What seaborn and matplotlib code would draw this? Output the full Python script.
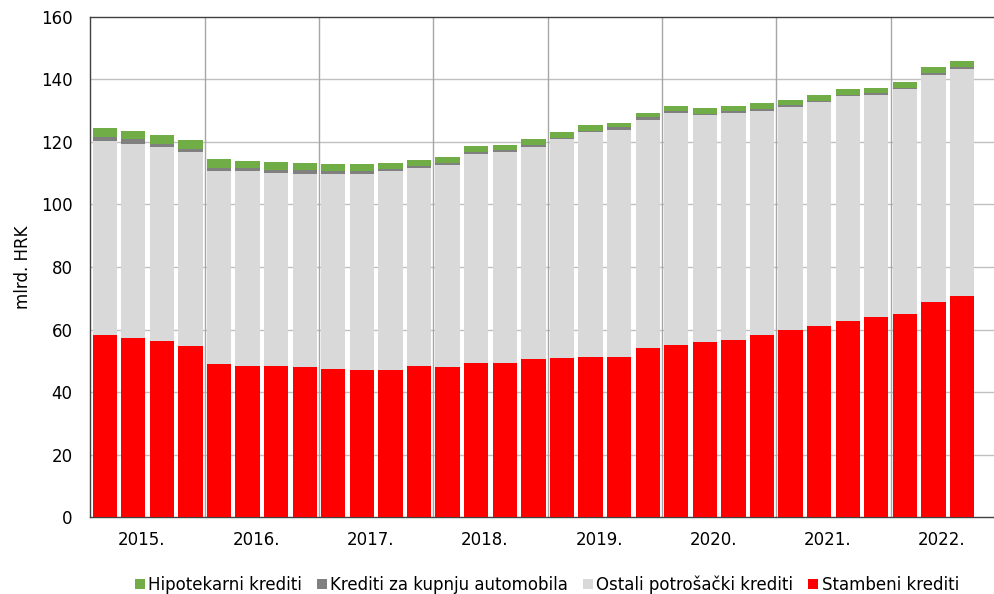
import pandas as pd
import matplotlib
matplotlib.use("Agg")
import matplotlib.pyplot as plt
import seaborn as sns
import numpy as np
from matplotlib.patches import Patch

# kvartalni podaci, 2015. Q1 - 2022. Q3 (mlrd. HRK)
godine = ["2015.", "2016.", "2017.", "2018.", "2019.", "2020.", "2021.", "2022."]
stambeni = [58.2, 57.4, 56.3, 54.8, 49.1, 48.3, 48.3, 47.9, 47.5, 47.0, 47.0, 48.3,
            47.9, 49.4, 49.4, 50.6, 50.9, 51.3, 51.3, 54.0, 55.0, 55.9, 56.6, 58.2,
            59.7, 61.2, 62.7, 63.9, 65.1, 68.9, 70.8]
ostali = [62.0, 62.1, 62.0, 62.0, 61.5, 62.3, 61.9, 62.0, 62.4, 62.9, 63.6, 63.4,
          64.6, 66.7, 67.3, 67.9, 70.0, 71.9, 72.6, 73.0, 74.4, 72.6, 72.8, 71.8,
          71.6, 71.6, 72.0, 71.2, 71.9, 72.6, 72.6]
automobili = [1.5, 1.4, 1.2, 1.1, 1.2, 1.2, 0.8, 1.0, 0.7, 0.7, 0.7, 0.7,
              0.7, 0.6, 0.7, 0.4, 0.4, 0.4, 0.8, 0.9, 0.5, 0.6, 0.4, 0.6,
              0.4, 0.4, 0.4, 0.5, 0.4, 0.6, 0.6]
hipotekarni = [2.8, 2.7, 2.7, 2.7, 2.7, 2.2, 2.6, 2.4, 2.4, 2.4, 2.0, 1.9,
               2.0, 1.9, 1.6, 2.0, 1.9, 1.8, 1.5, 1.4, 1.7, 1.8, 1.8, 1.9,
               1.8, 1.9, 1.9, 1.8, 1.9, 1.8, 1.8]

serije = ["Hipotekarni krediti", "Krediti za kupnju automobila",
          "Ostali potrošački krediti", "Stambeni krediti"]
boje = ["#70AD47", "#808080", "#D9D9D9", "#FF0000"]

kvartali = [f"{q}.{g}" for g in godine for q in range(1, 5)][:len(stambeni)]

df = pd.DataFrame({"kvartal": kvartali, "Stambeni krediti": stambeni,
                   "Ostali potrošački krediti": ostali,
                   "Krediti za kupnju automobila": automobili,
                   "Hipotekarni krediti": hipotekarni})
# kumulativne visine (crta se od vrha prema dnu)
df["c3"] = df["Stambeni krediti"]
df["c2"] = df["c3"] + df["Ostali potrošački krediti"]
df["c1"] = df["c2"] + df["Krediti za kupnju automobila"]
df["c0"] = df["c1"] + df["Hipotekarni krediti"]

sns.set_style("white")
plt.rcParams["font.family"] = ["DejaVu Sans"]
plt.rcParams["text.color"] = "black"
plt.rcParams["xtick.color"] = "black"
plt.rcParams["ytick.color"] = "black"
plt.rcParams["axes.labelcolor"] = "black"

f = plt.figure(figsize=(9.94, 5.94), dpi=100)
ax = f.add_axes([0.091, 0.1296, 0.909, 0.8418])

for col, boja in zip(["c0", "c1", "c2", "c3"], boje):
    sns.barplot(data=df, x="kvartal", y=col, order=kvartali, color=boja,
                width=0.85, saturation=1, linewidth=0, ax=ax, zorder=3)

ax.set_ylim(0, 160)
ax.set_xlim(-0.5, 31.12)
ax.set_yticks(np.arange(0, 161, 20))
ax.set_xticks([4 * i + 1.3 for i in range(len(godine))])
ax.set_xticklabels(godine)
ax.tick_params(axis="x", length=0, labelsize=12, pad=10)
ax.tick_params(axis="y", length=4, color="#BFBFBF", labelsize=12, pad=9,
               labelcolor="black")
for y in range(20, 160, 20):
    ax.axhline(y, color="#C0C0C0", lw=1, zorder=1)
for x in np.arange(3.5, 28, 4):
    ax.axvline(x, color="#A6A6A6", lw=1, zorder=1)
ax.set_xlabel("")
ax.set_ylabel("mlrd. HRK", fontsize=12, labelpad=6)
for s in ["left", "bottom", "top"]:
    ax.spines[s].set_color("#404040")
    ax.spines[s].set_linewidth(1)
ax.spines["right"].set_visible(False)

handles = [Patch(facecolor=b, edgecolor="none") for b in boje]
f.legend(handles, serije, loc="center", bbox_to_anchor=(0.55, 0.016), ncol=4,
         frameon=False, fontsize=12, handlelength=0.6, handleheight=0.6,
         handletextpad=0.2, columnspacing=0.9)

f.savefig("out.png", dpi=100)
plt.close("all")
